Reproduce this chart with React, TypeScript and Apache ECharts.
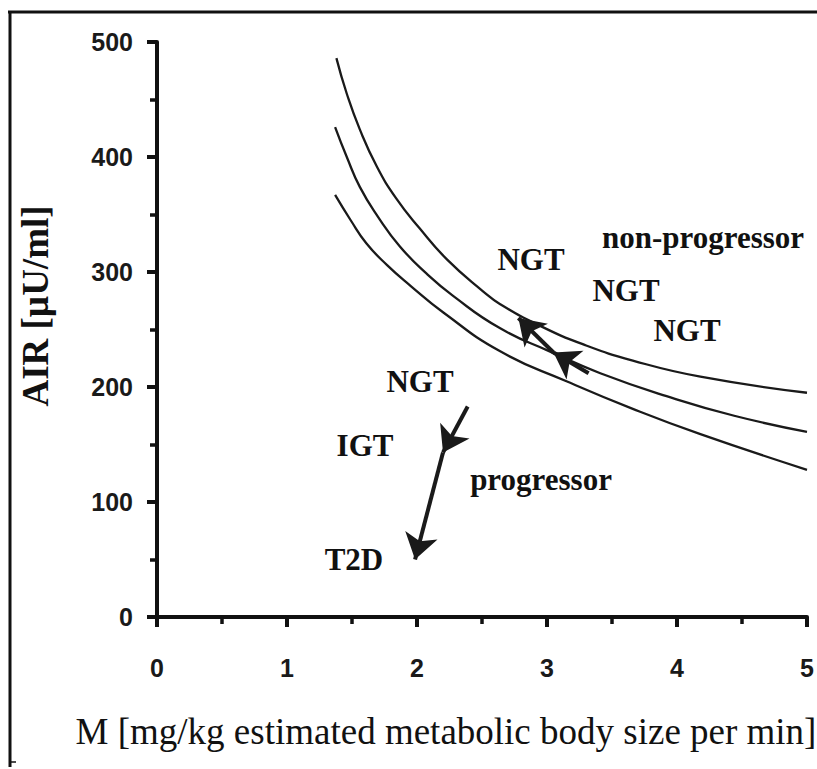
import React, { useEffect, useRef } from "react";
import * as echarts from "echarts";

// Curves: [M, AIR]
const topCurve: [number, number][] = [
  [1.38, 486], [1.46, 455], [1.56, 424], [1.69, 392], [1.84, 364], [2.02, 338],
  [2.23, 311], [2.51, 283], [2.64, 272], [2.95, 253], [3.28, 237], [3.66, 223],
  [4.18, 209], [5.0, 195],
];
const midCurve: [number, number][] = [
  [1.37, 426], [1.46, 400], [1.56, 374], [1.7, 348], [1.87, 322], [2.07, 299],
  [2.28, 279], [2.64, 251], [3.02, 231], [3.41, 212], [3.92, 192], [4.44, 175],
  [5.0, 161],
];
const botCurve: [number, number][] = [
  [1.37, 367], [1.49, 345], [1.61, 325], [1.77, 306], [1.95, 288], [2.2, 265],
  [2.64, 231], [3.15, 205], [3.66, 181], [4.18, 159], [5.0, 128],
];

// Arrow segments (start -> tip), arrowhead at the tip
const arrowStarts: [number, number][] = [[3.32, 212], [3.05, 230], [2.39, 183], [2.2, 143]];
const arrowEnds: [number, number][] = [[3.05, 230], [2.78, 260], [2.2, 143], [1.985, 50]];

// Annotation texts and their centres
const noteTexts = ["non-progressor", "NGT", "NGT", "NGT", "NGT", "IGT", "progressor", "T2D"];
const noteX = [4.2, 2.877, 3.608, 4.077, 2.023, 1.6, 2.954, 1.515];
const noteY = [330, 311, 283.5, 248.7, 205, 148.7, 120, 50.4];

const xTickValues = [0, 1, 2, 3, 4, 5];
const yTickValues = [0, 100, 200, 300, 400, 500];

const xTitle = "M [mg/kg estimated metabolic body size per min]";
const yTitle = "AIR [µU/ml]";

export default function App() {
  const ref = useRef<HTMLDivElement>(null);
  useEffect(() => {
    const chart = echarts.init(ref.current!, null, { renderer: "svg" });
    const curveStyle = { color: "#1a1a1a", width: 2.3 };
    const axisCommon = {
      axisLine: { show: true, lineStyle: { color: "#111", width: 4 } },
      axisTick: { show: true, inside: false, length: 10, lineStyle: { color: "#111", width: 4 } },
      minorTick: { show: true, splitNumber: 2, length: 7, lineStyle: { color: "#111", width: 3.5 } },
      splitLine: { show: false },
      minorSplitLine: { show: false },
    };
    chart.setOption({
      animation: false,
      backgroundColor: "#fff",
      grid: { left: 157, right: 10, top: 42, bottom: 152, containLabel: false },
      xAxis: {
        type: "value",
        min: xTickValues[0],
        max: xTickValues[xTickValues.length - 1],
        interval: 1,
        ...axisCommon,
        axisLabel: {
          margin: 38,
          color: "#1a1a1a",
          fontFamily: "Liberation Sans",
          fontWeight: "bold",
          fontSize: 25,
        },
      },
      yAxis: {
        type: "value",
        min: yTickValues[0],
        max: yTickValues[yTickValues.length - 1],
        interval: 100,
        ...axisCommon,
        axisLabel: {
          margin: 24,
          color: "#1a1a1a",
          fontFamily: "Liberation Sans",
          fontWeight: "bold",
          fontSize: 25,
        },
      },
      graphic: [
        { type: "line", shape: { x1: 8, y1: 12, x2: 817, y2: 12 }, style: { stroke: "#111", lineWidth: 3 } },
        { type: "line", shape: { x1: 10, y1: 11, x2: 10, y2: 767 }, style: { stroke: "#111", lineWidth: 3 } },
        { type: "line", shape: { x1: 10, y1: 762, x2: 16, y2: 762 }, style: { stroke: "#111", lineWidth: 1.5 } },
        {
          type: "text",
          x: 446,
          y: 731,
          style: {
            text: xTitle,
            fill: "#111",
            font: "37px 'Liberation Serif'",
            textAlign: "center",
            textVerticalAlign: "middle",
          },
        },
        {
          type: "text",
          x: 35,
          y: 306,
          rotation: Math.PI / 2,
          style: {
            text: yTitle,
            fill: "#111",
            font: "bold 37px 'Liberation Serif'",
            textAlign: "center",
            textVerticalAlign: "middle",
          },
        },
      ],
      series: [
        { type: "line", data: topCurve, smooth: true, symbol: "none", lineStyle: curveStyle, z: 2 },
        { type: "line", data: midCurve, smooth: true, symbol: "none", lineStyle: curveStyle, z: 2 },
        { type: "line", data: botCurve, smooth: true, symbol: "none", lineStyle: curveStyle, z: 2 },
        {
          type: "lines",
          coordinateSystem: "cartesian2d",
          symbol: ["none", "arrow"],
          symbolSize: [17, 25],
          lineStyle: { color: "#1a1a1a", width: 4, opacity: 1 },
          data: arrowStarts.map((s, i) => ({ coords: [s, arrowEnds[i]] })),
          z: 3,
        },
        {
          type: "scatter",
          symbolSize: 0,
          itemStyle: { color: "#111", opacity: 1 },
          data: noteTexts.map((t, i) => ({ name: t, value: [noteX[i], noteY[i]] })),
          label: {
            show: true,
            position: "inside",
            formatter: (p: any) => p.name,
            color: "#111",
            opacity: 1,
            textBorderWidth: 0,
            fontFamily: "Liberation Serif",
            fontWeight: "bold",
            fontSize: 31,
          },
          emphasis: { disabled: true },
          labelLayout: { hideOverlap: false },
          z: 4,
        },
      ],
    });
    return () => chart.dispose();
  }, []);
  return (
    <div
      ref={ref}
      style={{ position: "absolute", left: 0, top: 0, width: 817, height: 769, background: "#fff" }}
    />
  );
}
